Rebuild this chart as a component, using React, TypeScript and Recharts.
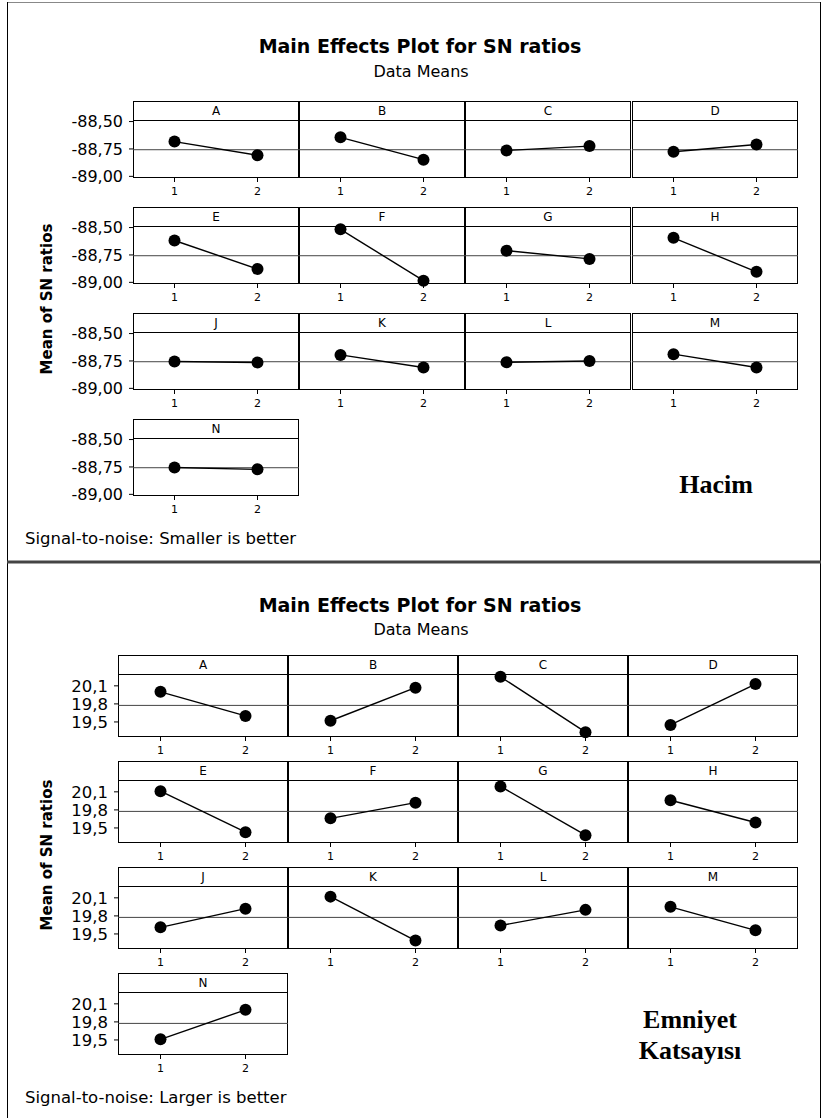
import React from "react";
import { LineChart, Line, XAxis, YAxis, ReferenceLine } from "recharts";

// factors and the two levels of each
const FACTORS = ["A", "B", "C", "D", "E", "F", "G", "H", "J", "K", "L", "M", "N"];
const LEVELS = [1, 2];

// Hacim: SN ratio means (smaller is better)
const HACIM_LEVEL1 = [-88.683, -88.644, -88.764, -88.776, -88.618, -88.516, -88.711, -88.594, -88.755, -88.695, -88.762, -88.688, -88.755];
const HACIM_LEVEL2 = [-88.808, -88.848, -88.724, -88.709, -88.878, -88.985, -88.786, -88.904, -88.764, -88.810, -88.750, -88.810, -88.772];
const HACIM_MEAN = -88.757;
const HACIM_TICKS = [-89, -88.75, -88.5];

// Emniyet katsayısı: SN ratio means (larger is better)
const EMNIYET_LEVEL1 = [20.0, 19.52, 20.25, 19.45, 20.11, 19.66, 20.19, 19.96, 19.61, 20.12, 19.64, 19.95, 19.51];
const EMNIYET_LEVEL2 = [19.6, 20.07, 19.33, 20.13, 19.43, 19.92, 19.38, 19.59, 19.92, 19.39, 19.9, 19.56, 20.0];
const EMNIYET_MEAN = 19.775;
const EMNIYET_TICKS = [19.5, 19.8, 20.1];

const FONT = "'DejaVu Sans', Verdana, sans-serif";
const SERIF = "'Liberation Serif', 'Times New Roman', serif";

interface Layout {
  cols: number[];
  colW: number;
  rows: number[];
  stripH: number;
  plotH: number;
  yW: number;
  domain: [number, number];
  tickFont: number;
  digits: number;
}

const TOP_LAYOUT: Layout = {
  cols: [133, 299, 465, 632],
  colW: 166,
  rows: [101, 207, 313, 419],
  stripH: 20,
  plotH: 57,
  yW: 70,
  domain: [-89.015, -88.495],
  tickFont: 16,
  digits: 2,
};

const BOTTOM_LAYOUT: Layout = {
  cols: [118, 288, 458, 628],
  colW: 170,
  rows: [655, 761, 867, 973],
  stripH: 20,
  plotH: 62,
  yW: 60,
  domain: [19.25, 20.28],
  tickFont: 16.5,
  digits: 1,
};

interface PanelProps {
  name: string;
  index: number;
  v1: number;
  v2: number;
  mean: number;
  ticks: number[];
  layout: Layout;
}

function FactorPanel({ name, index, v1, v2, mean, ticks, layout }: PanelProps) {
  const col = index % 4;
  const row = Math.floor(index / 4);
  const left = layout.cols[col];
  const top = layout.rows[row];
  const showY = col === 0;
  const yW = showY ? layout.yW : 0;
  const pad = 8;
  const xH = 26;
  const data = LEVELS.map((lv, i) => ({ level: lv, value: i === 0 ? v1 : v2 }));

  return (
    <>
      <div
        style={{
          position: "absolute",
          left,
          top,
          width: layout.colW,
          height: layout.stripH + layout.plotH,
          boxSizing: "border-box",
          border: "1px solid #000",
        }}
      />
      <div
        style={{
          position: "absolute",
          left,
          top,
          width: layout.colW,
          height: layout.stripH,
          boxSizing: "border-box",
          borderBottom: "1px solid #000",
          fontFamily: FONT,
          fontSize: 12,
          lineHeight: `${layout.stripH}px`,
          textAlign: "center",
          color: "#000",
        }}
      >
        {name}
      </div>
      <div style={{ position: "absolute", left: left - yW, top: top + layout.stripH - pad }}>
        <LineChart
          width={layout.colW + yW + pad}
          height={pad + layout.plotH + xH}
          data={data}
          margin={{ top: pad, right: pad, bottom: 0, left: 0 }}
        >
          <XAxis
            dataKey="level"
            type="number"
            domain={[0.5, 2.5]}
            ticks={LEVELS}
            interval={0}
            axisLine={false}
            tickLine={{ stroke: "#000" }}
            tickSize={4}
            tickMargin={5}
            height={xH}
            tick={{ fontSize: 11, fill: "#000", fontFamily: FONT }}
          />
          <YAxis
            type="number"
            domain={layout.domain}
            ticks={ticks}
            interval={0}
            hide={!showY}
            width={yW}
            axisLine={false}
            tickLine={{ stroke: "#000" }}
            tickSize={4}
            tickMargin={6}
            tick={{ fontSize: layout.tickFont, fill: "#000", fontFamily: FONT }}
            tickFormatter={(v: number) => v.toFixed(layout.digits).replace(".", ",")}
          />
          <ReferenceLine y={mean} stroke="#444" strokeWidth={1} />
          <Line
            dataKey="value"
            stroke="#000"
            strokeWidth={1.4}
            dot={{ r: 6, fill: "#000", stroke: "#000", strokeWidth: 0 }}
            isAnimationActive={false}
          />
        </LineChart>
      </div>
    </>
  );
}

export default function App() {
  return (
    <div
      style={{
        position: "absolute",
        left: 0,
        top: 0,
        width: 825,
        height: 1118,
        background: "#fff",
        overflow: "hidden",
        fontFamily: FONT,
      }}
    >
      <svg width={825} height={1118} style={{ position: "absolute", left: 0, top: 0 }}>
        {/* frames */}
        <line x1={7} y1={2.5} x2={821} y2={2.5} stroke="#888" strokeWidth={1} />
        <line x1={7.5} y1={2} x2={7.5} y2={1118} stroke="#000" strokeWidth={1} />
        <line x1={820.5} y1={2} x2={820.5} y2={1118} stroke="#000" strokeWidth={1} />
        <line x1={7} y1={562} x2={821} y2={562} stroke="#444" strokeWidth={3} />

        {/* top chart texts */}
        <text x={420} y={53} textAnchor="middle" fontFamily={FONT} fontWeight="bold" fontSize={19}>
          Main Effects Plot for SN ratios
        </text>
        <text x={421} y={77} textAnchor="middle" fontFamily={FONT} fontSize={16}>
          Data Means
        </text>
        <text transform="translate(52,299) rotate(-90)" textAnchor="middle" fontFamily={FONT} fontWeight="bold" fontSize={15}>
          Mean of SN ratios
        </text>
        <text x={25} y={544} fontFamily={FONT} fontSize={16.5}>
          Signal-to-noise: Smaller is better
        </text>
        <text x={716} y={493} textAnchor="middle" fontFamily={SERIF} fontWeight="bold" fontSize={26}>
          Hacim
        </text>

        {/* bottom chart texts */}
        <text x={420} y={612} textAnchor="middle" fontFamily={FONT} fontWeight="bold" fontSize={19}>
          Main Effects Plot for SN ratios
        </text>
        <text x={421} y={635} textAnchor="middle" fontFamily={FONT} fontSize={16}>
          Data Means
        </text>
        <text transform="translate(52,855) rotate(-90)" textAnchor="middle" fontFamily={FONT} fontWeight="bold" fontSize={15}>
          Mean of SN ratios
        </text>
        <text x={25} y={1103} fontFamily={FONT} fontSize={16.5}>
          Signal-to-noise: Larger is better
        </text>
        <text x={690} y={1028} textAnchor="middle" fontFamily={SERIF} fontWeight="bold" fontSize={26}>
          Emniyet
        </text>
        <text x={690} y={1059} textAnchor="middle" fontFamily={SERIF} fontWeight="bold" fontSize={26}>
          Katsayısı
        </text>
      </svg>

      {FACTORS.map((f, i) => (
        <FactorPanel
          key={"h" + f}
          name={f}
          index={i}
          v1={HACIM_LEVEL1[i]}
          v2={HACIM_LEVEL2[i]}
          mean={HACIM_MEAN}
          ticks={HACIM_TICKS}
          layout={TOP_LAYOUT}
        />
      ))}
      {FACTORS.map((f, i) => (
        <FactorPanel
          key={"e" + f}
          name={f}
          index={i}
          v1={EMNIYET_LEVEL1[i]}
          v2={EMNIYET_LEVEL2[i]}
          mean={EMNIYET_MEAN}
          ticks={EMNIYET_TICKS}
          layout={BOTTOM_LAYOUT}
        />
      ))}
    </div>
  );
}
